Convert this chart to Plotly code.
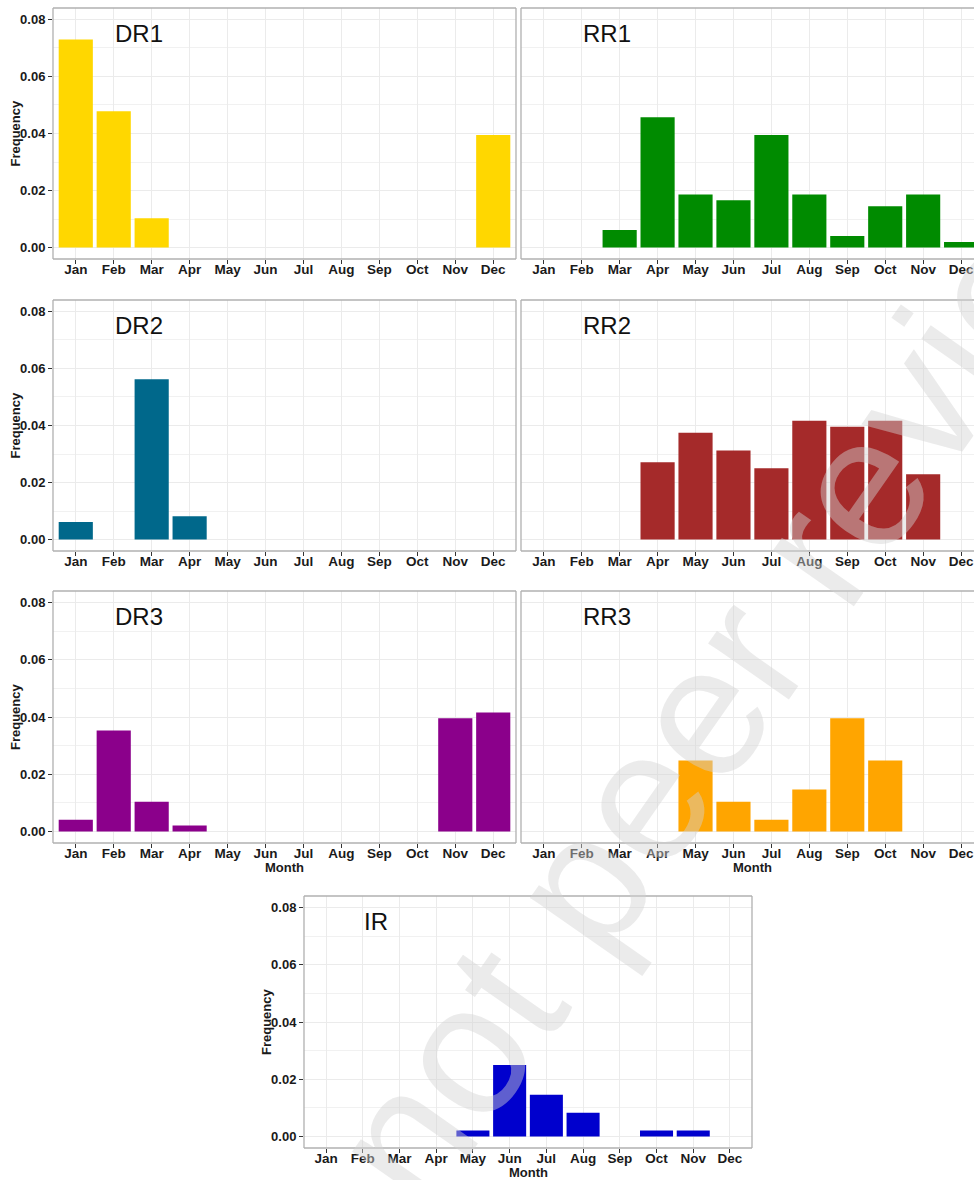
import plotly.graph_objects as go

# Monthly frequency per group
months = ["Jan", "Feb", "Mar", "Apr", "May", "Jun", "Jul", "Aug", "Sep", "Oct", "Nov", "Dec"]

dr1 = [0.0730, 0.0478, 0.0103, None, None, None, None, None, None, None, None, 0.0395]
rr1 = [None, None, 0.0062, 0.0457, 0.0186, 0.0166, 0.0395, 0.0186, 0.0041, 0.0145, 0.0186, 0.0020]
dr2 = [0.0062, None, 0.0562, 0.0082, None, None, None, None, None, None, None, None]
rr2 = [None, None, None, 0.0271, 0.0375, 0.0312, 0.0250, 0.0417, 0.0396, 0.0417, 0.0229, None]
dr3 = [0.0041, 0.0353, 0.0104, 0.0021, None, None, None, None, None, None, 0.0396, 0.0416]
rr3 = [None, None, None, None, 0.0248, 0.0104, 0.0041, 0.0147, 0.0396, 0.0248, None, None]
ir = [None, None, None, None, 0.0021, 0.0250, 0.0146, 0.0083, None, 0.0021, 0.0021, None]

panel_names = ["DR1", "RR1", "DR2", "RR2", "DR3", "RR3", "IR"]
panel_values = [dr1, rr1, dr2, rr2, dr3, rr3, ir]
panel_colors = ["#FFD700", "#008B00", "#00688B", "#A52A2A", "#8B008B", "#FFA500", "#0000CD"]

W, H = 974, 1180
FONT = "Arial, Liberation Sans, Helvetica, sans-serif"

# panel boxes in pixels: (left, top, right, bottom), x range upper bound, y-labels shown, right border
boxes = [
    (53, 8, 516, 259, 11.6, True, True),
    (521, 8, 974, 259, 11.34, False, False),
    (53, 300, 516, 551, 11.6, True, True),
    (521, 300, 974, 551, 11.34, False, False),
    (53, 591, 516, 843, 11.6, True, True),
    (521, 591, 974, 843, 11.34, False, False),
    (304, 896, 752, 1148, 11.6, True, True),
]

fig = go.Figure()
shapes = []
annotations = []
border = dict(color="#b0b0b0", width=1.3)

for i, (name, vals, col, box) in enumerate(zip(panel_names, panel_values, panel_colors, boxes)):
    l, t, r, b, xmax, show_y, right_edge = box
    k = "" if i == 0 else str(i + 1)
    fig.add_trace(go.Bar(
        x=months, y=vals, xaxis="x" + k, yaxis="y" + k,
        marker=dict(color=col, line=dict(width=0)), width=0.9,
        showlegend=False, hoverinfo="x+y",
    ))
    fig.layout["xaxis" + k] = dict(
        domain=[l / W, r / W], anchor="y" + k,
        type="category", categoryorder="array", categoryarray=months,
        range=[-0.6, xmax], showgrid=True, gridcolor="#ebebeb", gridwidth=1.1,
        ticks="outside", ticklen=4, tickwidth=1, tickcolor="#333333",
        ticklabelstandoff=-6,
        tickfont=dict(family=FONT, size=13.5, color="#1a1a1a", weight="bold"),
        showline=False, zeroline=False, fixedrange=True,
    )
    fig.layout["yaxis" + k] = dict(
        domain=[1 - b / H, 1 - t / H], anchor="x" + k,
        range=[-0.004, 0.084], tickvals=[0, 0.02, 0.04, 0.06, 0.08],
        ticktext=["0.00", "0.02", "0.04", "0.06", "0.08"],
        showticklabels=show_y, ticks="outside" if show_y else "",
        ticklen=4, tickwidth=1, tickcolor="#333333",
        tickfont=dict(family=FONT, size=13, color="#1a1a1a", weight="bold"),
        showgrid=True, gridcolor="#ebebeb", gridwidth=1.1,
        minor=dict(dtick=0.01, tick0=0, showgrid=True, gridcolor="#f1f1f1", gridwidth=0.6),
        zeroline=False, showline=False, fixedrange=True,
    )
    xr, yr = "x" + k + " domain", "y" + k + " domain"
    edges = [(0, 0, 1, 0), (0, 1, 1, 1), (0, 0, 0, 1)]
    if right_edge:
        edges.append((1, 0, 1, 1))
    for x0, y0, x1, y1 in edges:
        shapes.append(dict(type="line", xref=xr, yref=yr, x0=x0, y0=y0, x1=x1, y1=y1,
                           line=border, layer="above"))
    # group label inside the panel
    annotations.append(dict(text=name, x=0.97, y=0.075, xref="x" + k, yref="y" + k,
                            xanchor="left", yanchor="middle", showarrow=False,
                            font=dict(family=FONT, size=24, color="#111111")))
    if show_y:
        annotations.append(dict(text="Frequency", x=(l - 38) / W, y=1 - (t + b) / 2 / H,
                                xref="paper", yref="paper", textangle=-90,
                                xanchor="center", yanchor="middle", showarrow=False,
                                font=dict(family=FONT, size=13, color="#1a1a1a", weight="bold")))

# x-axis titles under the bottom panels
for cx, cy in [(284.5, 867), (752, 867), (528, 1172)]:
    annotations.append(dict(text="Month", x=cx / W, y=1 - cy / H, xref="paper", yref="paper",
                            xanchor="center", yanchor="middle", showarrow=False,
                            font=dict(family=FONT, size=13, color="#1a1a1a", weight="bold")))

# diagonal watermark over the whole figure
annotations.append(dict(text="not peer review", x=737 / W, y=1 - 660 / H,
                        xref="paper", yref="paper", xanchor="center", yanchor="middle",
                        textangle=-55, showarrow=False,
                        font=dict(family=FONT, size=186, color="rgba(210,210,210,0.45)")))

fig.update_layout(
    width=W, height=H, margin=dict(l=0, r=0, t=0, b=0),
    paper_bgcolor="white", plot_bgcolor="white",
    shapes=shapes, annotations=annotations, bargap=0.1,
)

fig.write_html("out.html", include_plotlyjs=True, config={"displayModeBar": False})
